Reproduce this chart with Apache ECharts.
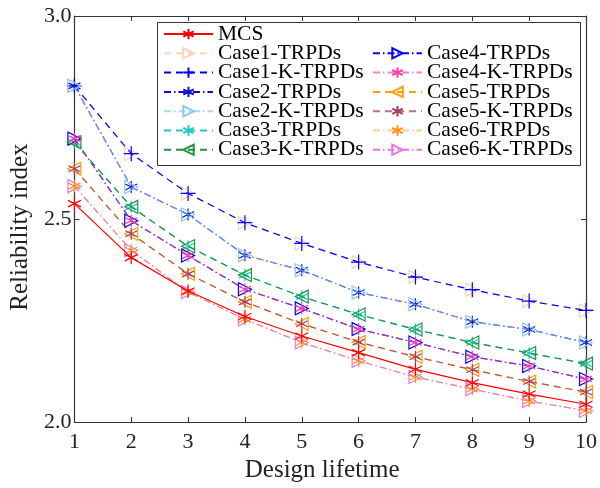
<!DOCTYPE html>
<html>
<head>
<meta charset="utf-8">
<script src="https://cdn.jsdelivr.net/npm/echarts@6/dist/echarts.min.js"></script>
<style>
  html, body { margin: 0; padding: 0; background: #fff; }
  #chart { width: 600px; height: 488px; }
</style>
</head>
<body>
<div id="chart"></div>
<script>
// design lifetime (x) and reliability index values
const lifetime = [1, 2, 3, 4, 5, 6, 7, 8, 9, 10];
const yTicks = [2.0, 2.5, 3.0];

const mcs         = [2.538, 2.405, 2.323, 2.260, 2.212, 2.171, 2.130, 2.097, 2.069, 2.044];
const case1Trpd   = [2.828, 2.661, 2.563, 2.491, 2.440, 2.394, 2.357, 2.326, 2.298, 2.275];
const case1KTrpd  = [2.828, 2.661, 2.563, 2.491, 2.440, 2.394, 2.357, 2.326, 2.298, 2.275];
const case2Trpd   = [2.828, 2.579, 2.511, 2.411, 2.374, 2.319, 2.290, 2.247, 2.228, 2.196];
const case2KTrpd  = [2.828, 2.579, 2.511, 2.411, 2.374, 2.319, 2.290, 2.247, 2.228, 2.196];
const case3Trpd   = [2.689, 2.530, 2.433, 2.362, 2.309, 2.265, 2.228, 2.196, 2.170, 2.144];
const case3KTrpd  = [2.689, 2.530, 2.433, 2.362, 2.309, 2.265, 2.228, 2.196, 2.170, 2.144];
const case4Trpd   = [2.698, 2.496, 2.410, 2.327, 2.280, 2.229, 2.196, 2.161, 2.138, 2.106];
const case4KTrpd  = [2.698, 2.496, 2.410, 2.327, 2.280, 2.229, 2.196, 2.161, 2.138, 2.106];
const case5Trpd   = [2.624, 2.464, 2.365, 2.296, 2.242, 2.197, 2.161, 2.129, 2.100, 2.074];
const case5KTrpd  = [2.624, 2.464, 2.365, 2.296, 2.242, 2.197, 2.161, 2.129, 2.100, 2.074];
const case6Trpd   = [2.581, 2.423, 2.320, 2.253, 2.196, 2.151, 2.111, 2.081, 2.052, 2.028];
const case6KTrpd  = [2.581, 2.423, 2.320, 2.253, 2.196, 2.151, 2.111, 2.081, 2.052, 2.028];

// legend columns (MCS sits alone on the first row)
const legendLeftCol = ['MCS', 'Case1-TRPDs', 'Case1-K-TRPDs', 'Case2-TRPDs', 'Case2-K-TRPDs', 'Case3-TRPDs', 'Case3-K-TRPDs'];
const legendRightCol = ['Case4-TRPDs', 'Case4-K-TRPDs', 'Case5-TRPDs', 'Case5-K-TRPDs', 'Case6-TRPDs', 'Case6-K-TRPDs'];

// marker shapes (stroked, not filled)
const STAR = 'path://M10,0L10,20M1.34,5L18.66,15M1.34,15L18.66,5';
const PLUS = 'path://M10,0L10,20M0,10L20,10';
const TRI_R = 'path://M0,0L18,10L0,20Z';
const TRI_L = 'path://M18,0L0,10L18,20Z';

const DASH = [7, 5];
const DASHDOT = [7, 3, 1.5, 3];
const FONT = 'Liberation Serif';

const pts = (arr) => lifetime.map((x, i) => [x, arr[i]]);

const mkSeries = (name, arr, color, lineType, symbol, size, z, lineOpacity) => ({
    name: name,
    type: 'line',
    data: pts(arr),
    symbol: symbol,
    symbolSize: size,
    z: z,
    lineStyle: { color: color, width: 1.2, type: lineType, opacity: lineOpacity || 1 },
    itemStyle: { color: 'none', borderColor: color, borderWidth: 1.2 },
    emphasis: { disabled: true },
    animation: false
});

const series = [
    mkSeries('Case1-TRPDs', case1Trpd, '#ffd2b4', DASH, TRI_R, 13, 2),
    mkSeries('Case1-K-TRPDs', case1KTrpd, '#0000ff', DASH, PLUS, 15, 3),
    mkSeries('Case2-TRPDs', case2Trpd, '#1010c8', DASHDOT, STAR, 12, 2),
    mkSeries('Case2-K-TRPDs', case2KTrpd, '#8cc8f0', DASHDOT, TRI_R, 13, 3, 0.75),
    mkSeries('Case3-TRPDs', case3Trpd, '#20c8c8', DASH, STAR, 12, 2),
    mkSeries('Case3-K-TRPDs', case3KTrpd, '#1e9640', DASH, TRI_L, 13, 3),
    mkSeries('Case4-TRPDs', case4Trpd, '#0000ff', DASHDOT, TRI_R, 13, 2),
    mkSeries('Case4-K-TRPDs', case4KTrpd, '#ff3ca0', DASHDOT, STAR, 12, 3, 0.65),
    mkSeries('Case5-TRPDs', case5Trpd, '#ffa000', DASH, TRI_L, 13, 2),
    mkSeries('Case5-K-TRPDs', case5KTrpd, '#a83c64', DASH, STAR, 12, 3, 0.75),
    mkSeries('Case6-K-TRPDs', case6KTrpd, '#e678e6', DASHDOT, TRI_R, 13, 2),
    mkSeries('Case6-TRPDs', case6Trpd, '#ff9014', DASHDOT, STAR, 12, 3, 0.45),
    mkSeries('MCS', mcs, '#ff0000', 'solid', STAR, 13, 4)
];

// one legend per entry so the row pitch can be set exactly
const ROW = 19.3;
const legendItem = (name, left, row) => ({
    data: [name],
    left: left,
    top: 23 + row * ROW,
    itemWidth: 49,
    itemHeight: 13,
    padding: 0,
    selectedMode: false,
    z: 5,
    textStyle: { fontFamily: FONT, fontSize: 21.5, color: '#000' }
});
const legends = legendLeftCol.map((n, i) => legendItem(n, 163, i))
    .concat(legendRightCol.map((n, i) => legendItem(n, 372, i + 1)));

const axisCommon = {
    axisLine: { lineStyle: { color: '#333', width: 1.2 } },
    axisTick: { inside: true, length: 5, lineStyle: { color: '#333' } },
    splitLine: { show: false }
};

const option = {
    backgroundColor: '#fff',
    animation: false,
    grid: { left: 74, right: 13, top: 16, bottom: 65 },
    xAxis: [
        Object.assign({
            type: 'value', min: 1, max: 10, interval: 1,
            name: 'Design lifetime', nameLocation: 'middle', nameGap: 31,
            nameTextStyle: { fontFamily: FONT, fontSize: 25, color: '#222', padding: [0, 16, 0, 0] },
            axisLabel: { fontFamily: FONT, fontSize: 22, color: '#222', margin: 9 }
        }, axisCommon),
        Object.assign({
            type: 'value', min: 1, max: 10, interval: 1, position: 'top',
            axisLabel: { show: false }
        }, axisCommon)
    ],
    yAxis: [
        Object.assign({
            type: 'value', min: yTicks[0], max: yTicks[yTicks.length - 1], interval: 0.5,
            name: 'Reliability index', nameLocation: 'middle', nameGap: 39,
            nameTextStyle: { fontFamily: FONT, fontSize: 25, color: '#222', padding: [0, 16, 0, 0] },
            axisLabel: { fontFamily: FONT, fontSize: 22, color: '#222', margin: 3,
                formatter: (v) => v.toFixed(1) }
        }, axisCommon),
        Object.assign({
            type: 'value', min: yTicks[0], max: yTicks[yTicks.length - 1], interval: 0.5,
            position: 'right', axisLabel: { show: false }
        }, axisCommon)
    ],
    legend: legends,
    graphic: [{
        type: 'rect',
        z: 4,
        shape: { x: 157.5, y: 22.5, width: 423, height: 143 },
        style: { fill: '#fff', stroke: '#333', lineWidth: 1 }
    }],
    series: series
};

const chart = echarts.init(document.getElementById('chart'), null, { renderer: 'canvas' });
chart.setOption(option);
</script>
</body>
</html>
